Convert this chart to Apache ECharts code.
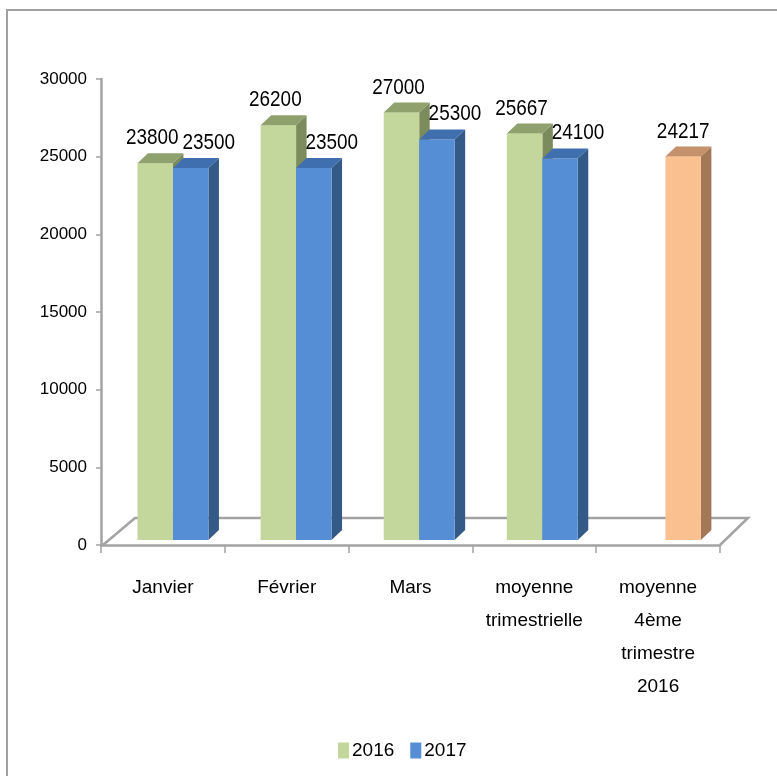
<!DOCTYPE html>
<html><head><meta charset="utf-8">
<script src="https://cdn.jsdelivr.net/npm/echarts@6/dist/echarts.min.js"></script>
<style>html,body{margin:0;padding:0;background:#fff}#c{width:777px;height:776px}</style>
</head><body><div id="c"></div>
<script>
// ---- data ----
const categories = ['Janvier', 'Février', 'Mars', 'moyenne\ntrimestrielle', 'moyenne\n4ème\ntrimestre\n2016'];
const seriesNames = ['2016', '2017'];
const values2016 = [23800, 26200, 27000, 25667, null];
const values2017 = [23500, 23500, 25300, 24100, 24217];
const yMin = 0, yMax = 30000, yStep = 5000;

// ---- style ----
const FONT = "'Liberation Sans', Arial, sans-serif";
const palettes = [
  { front: '#C3D69B', top: '#8FA16C', side: '#7C8B5C' },
  { front: '#558ED5', top: '#3F6FAE', side: '#345A88' }
];
const specialPalette = { front: '#FAC090', top: '#C4916B', side: '#A27856' };
const specialPoint = { series: 1, index: 4 };
const depth = { dx: 10.5, dy: -10 };

const allValues = [values2016, values2017];

function makeRender(sIdx) {
  return function (params, api) {
    const ci = api.value(0);
    const v = api.value(1);
    if (v == null || isNaN(v)) return;
    const topPt = api.coord([ci, v]);
    const basePt = api.coord([ci, 0]);
    const band = api.size([1, 0])[0];
    const w = band * 0.288;
    const left = sIdx === 0 ? topPt[0] - w : topPt[0];
    const right = left + w;
    const yt = topPt[1], yb = basePt[1];
    const dx = depth.dx, dy = depth.dy;
    const pal = (sIdx === specialPoint.series && params.dataIndex === specialPoint.index) ? specialPalette : palettes[sIdx];
    const other = allValues[1 - sIdx][params.dataIndex];
    const paired = other != null;
    let lx = left + w / 2 - (sIdx === 0 ? 3 : 0);
    if (sIdx === 1 && paired) lx += 18;
    return {
      type: 'group',
      children: [
        { type: 'polygon', shape: { points: [[right, yt], [right + dx, yt + dy], [right + dx, yb + dy], [right, yb]] }, style: { fill: pal.side } },
        { type: 'rect', shape: { x: left, y: yt, width: w, height: yb - yt }, style: { fill: pal.front } },
        { type: 'polygon', shape: { points: [[left, yt], [right, yt], [right + dx, yt + dy], [left + dx, yt + dy]] }, style: { fill: pal.top } },
        { type: 'text', z2: 10, x: lx, y: yt + dy - 15, scaleX: 0.86, scaleY: 1.0,
          style: { text: String(v), x: 0, y: 0, textAlign: 'center', textVerticalAlign: 'middle', fontSize: 22, fontFamily: FONT, fill: '#000' } }
      ]
    };
  };
}

const chart = echarts.init(document.getElementById('c'));
const option = {
  animation: false,
  backgroundColor: '#fff',
  legend: {
    data: seriesNames,
    left: 333, top: 736,
    icon: 'rect', itemWidth: 11, itemHeight: 16, itemGap: 16,
    textStyle: { fontSize: 19, fontFamily: FONT, color: '#000', padding: [0, 0, 0, -2] }
  },
  grid: [
    { left: 101, right: 57, top: 79, bottom: 231 },
    { left: 111.4, right: 50, top: 65, bottom: 236 }
  ],
  xAxis: [
    {
      gridIndex: 0, type: 'category', data: categories, boundaryGap: true,
      axisLine: { show: true, lineStyle: { color: '#A3A3A3', width: 2.5 } },
      axisTick: { show: true, length: 8, lineStyle: { color: '#A3A3A3', width: 1.5 } },
      axisLabel: { interval: 0, margin: 26, fontSize: 19, lineHeight: 33, fontFamily: FONT, color: '#000' },
      splitLine: { show: false }
    },
    { gridIndex: 1, type: 'category', data: categories, show: false }
  ],
  yAxis: [
    {
      gridIndex: 0, type: 'value', min: yMin, max: yMax, interval: yStep,
      axisLine: { show: true, lineStyle: { color: '#A3A3A3', width: 2.5 } },
      axisTick: { show: true, length: 5, lineStyle: { color: '#A3A3A3', width: 1.5 } },
      axisLabel: { margin: 14, fontSize: 17, fontFamily: FONT, color: '#000', formatter: (v) => String(v) },
      splitLine: { show: false }
    },
    { gridIndex: 1, type: 'value', min: yMin, max: yMax, show: false }
  ],
  series: seriesNames.map((name, s) => ({
    name: name,
    type: 'custom',
    xAxisIndex: 1, yAxisIndex: 1,
    itemStyle: { color: palettes[s].front },
    renderItem: makeRender(s),
    encode: { x: 0, y: 1 },
    data: allValues[s].map((v, i) => [i, v == null ? '-' : v]),
    z: 3
  })),
  graphic: [
    { id: 'frame', type: 'rect', z: 0, shape: { x: 7, y: 10, width: 820, height: 820 }, style: { fill: 'none', stroke: '#A0A0A0', lineWidth: 2 } }
  ]
};
chart.setOption(option);

// floor outline derived from the axes
function px(v) { const r = chart.convertToPixel({ xAxisIndex: 0 }, v); return Array.isArray(r) ? r[0] : r; }
function py(v) { const r = chart.convertToPixel({ yAxisIndex: 0 }, v); return Array.isArray(r) ? r[1] : r; }
const c0 = px(0), c1 = px(1), cN = px(categories.length - 1);
const bw = c1 - c0;
const x0 = c0 - bw / 2, x1 = cN + bw / 2;
const y0 = py(0);
const floorStyle = { stroke: '#A3A3A3', lineWidth: 2.5, fill: null };
chart.setOption({
  graphic: [
    { id: 'frame' },
    { id: 'floor', type: 'polyline', z: 1, shape: { points: [[x0 + 2, y0], [x0 + 34, y0 - 27], [x1 + 28, y0 - 27], [x1, y0]] }, style: floorStyle }
  ]
});
</script></body></html>
